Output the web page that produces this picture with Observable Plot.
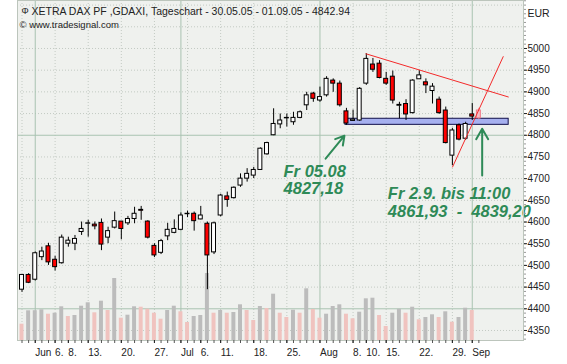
<!DOCTYPE html>
<html><head><meta charset="utf-8">
<script src="https://cdn.jsdelivr.net/npm/d3@7"></script>
<script src="https://cdn.jsdelivr.net/npm/@observablehq/plot@0.6"></script>
<style>html,body{margin:0;padding:0;background:#fff;}</style>
</head><body><div id="chart"></div>
<script>
// ---- data (XETRA DAX daily, 30.05.05 - 02.09.05) ----
const dates = [
"2005-05-30","2005-05-31",
"2005-06-01","2005-06-02","2005-06-03","2005-06-06","2005-06-07","2005-06-08","2005-06-09","2005-06-10",
"2005-06-13","2005-06-14","2005-06-15","2005-06-16","2005-06-17","2005-06-20","2005-06-21","2005-06-22",
"2005-06-23","2005-06-24","2005-06-27","2005-06-28","2005-06-29","2005-06-30",
"2005-07-01","2005-07-04","2005-07-05","2005-07-06","2005-07-07","2005-07-08","2005-07-11","2005-07-12",
"2005-07-13","2005-07-14","2005-07-15","2005-07-18","2005-07-19","2005-07-20","2005-07-21","2005-07-22",
"2005-07-25","2005-07-26","2005-07-27","2005-07-28","2005-07-29",
"2005-08-01","2005-08-02","2005-08-03","2005-08-04","2005-08-05","2005-08-08","2005-08-09","2005-08-10",
"2005-08-11","2005-08-12","2005-08-15","2005-08-16","2005-08-17","2005-08-18","2005-08-19","2005-08-22",
"2005-08-23","2005-08-24","2005-08-25","2005-08-26","2005-08-29","2005-08-30","2005-08-31",
"2005-09-01","2005-09-02"];
const open  = [4444,4478,4467,4519,4544,4513,4505,4550,4550,4577,4596,4594,4598,4564,4587,4601,4597,4607,4628,4601,
               4545,4529,4567,4575,4582,4618,4619,4606,4596,4530,4615,4659,4655,4684,4700,4707,4720,4756,4800,4825,
               4839,4830,4840,4869,4896,4880,4892,4926,4919,4855,4833,4834,4919,4963,4965,4930,4935,4868,4872,4851,
               4929,4922,4902,4882,4857,4753,4823,4792,4848,4857];
const high  = [4479,4481,4531,4542,4551,4521,4570,4565,4569,4600,4604,4600,4607,4588,4623,4601,4613,4634,4636,4603,
               4550,4560,4597,4605,4621,4625,4623,4636,4600,4600,4664,4669,4681,4711,4723,4726,4771,4784,4861,4849,
               4849,4853,4856,4899,4899,4911,4935,4930,4925,4862,4858,4910,4988,4977,4972,4945,4948,4876,4882,4928,
               4949,4930,4919,4888,4865,4816,4826,4830,4873,4862];
const low   = [4438,4458,4464,4511,4500,4487,4503,4542,4534,4569,4565,4582,4534,4550,4584,4559,4592,4596,4604,4561,
               4518,4525,4557,4573,4580,4610,4579,4605,4444,4525,4612,4634,4653,4680,4692,4700,4719,4754,4799,4815,
               4819,4823,4838,4857,4876,4876,4888,4899,4865,4823,4832,4832,4915,4945,4930,4915,4872,4838,4834,4849,
               4929,4896,4872,4848,4780,4730,4787,4788,4834,4836];
const close = [4478,4460,4528,4532,4507,4496,4564,4557,4561,4584,4597,4590,4548,4579,4602,4584,4607,4619,4626,4564,
               4523,4556,4582,4584,4615,4619,4602,4615,4523,4597,4661,4651,4679,4700,4711,4720,4769,4782,4826,4834,
               4840,4840,4853,4892,4884,4888,4930,4919,4869,4827,4836,4907,4976,4951,4932,4919,4880,4870,4848,4926,
               4938,4915,4912,4851,4782,4811,4790,4826,4843,4839];
// volume (relative units), one per completed session
const volume = [16.3,29.7,29.8,30.7,26.3,27.3,33.7,24,25,34.3,37.7,27.7,39.3,30,62,22.3,25.3,33.7,33.3,31.3,
                27.3,21.3,30,34.3,28.7,18,24,25,67,27.3,30,27.3,28,35.7,30,20,34,32,46.3,27.3,
                23,30.3,27.3,51.7,31,22.3,26.3,34,35.7,26.3,21.7,28.3,41.7,42.3,25,14,27.3,31.3,27.3,33.3,
                20.7,23,25.7,23,28.7,18.3,23,32.3,30];
const intradayDate = "2005-09-02";
const tickDates  = ["2005-06-01","2005-06-06","2005-06-08","2005-06-13","2005-06-20","2005-06-27","2005-07-01",
                    "2005-07-06","2005-07-11","2005-07-18","2005-07-25","2005-08-01","2005-08-08","2005-08-10",
                    "2005-08-15","2005-08-22","2005-08-29","2005-09-01"];
const tickLabels = ["Jun","6.","8.","13.","20.","27.","Jul","6.","11.","18.","25.","Aug","8.","10.","15.","22.","29.","Sep"];
const priceTicks = [4350,4400,4450,4500,4550,4600,4650,4700,4750,4800,4850,4900,4950,5000];
const gridPrices = [4350,4400,4450,4500,4550,4600,4650,4700,4750,4800,4850,4900,4950,5000,5050,5100];
const solidPrices = [4400,4800];
const title = "XETRA DAX PF ,GDAXI, Tageschart - 30.05.05 - 01.09.05 - 4842.94";
const source = "\u00a9 www.tradesignal.com";
const currency = "EUR";
// drawn annotations (session index, price)
const supportZone = [{x1:48.85, x2:73.5, low:4824, high:4838}];
const trendLines = [{x1:51.9, y1:4988, x2:73.5, y2:4888},{x1:65.0, y1:4726, x2:72.7, y2:4982}];
const arrows = [{x1:45.85, y1:4746, x2:48.7, y2:4799},{x1:69.5, y1:4707, x2:69.5, y2:4815}];
const noteLeft  = [{x:39.5, y:4697, text:"Fr 05.08\n4827,18"}];
const noteRight = [{x:55.25, y:4645, text:"Fr 2.9. bis 11:00\n4861,93\u00a0\u00a0-\u00a0\u00a04839,20"}];

// ---- derived ----
const candles = dates.map((d,i)=>({i, date:d, open:open[i], high:high[i], low:low[i], close:close[i], intraday:d===intradayDate}));
const yMin = 4326.9, yMax = 5110.6, plotH = 340;
const volUnit = (yMax - yMin) / plotH;
const vols = volume.map((v,i)=>({i, v, up: i>0 && v>volume[i-1]}));
const idxOf = new Map(dates.map((d,i)=>[d,i]));
const tickIdx = tickDates.map(d=>idxOf.get(d));
const labelOf = new Map(tickIdx.map((t,k)=>[t, tickLabels[k]]));
const monthIdx = dates.map((d,i)=>i).filter(i=>i>0 && dates[i].slice(5,7)!==dates[i-1].slice(5,7));
const mondayIdx = dates.map((d,i)=>i).filter(i=>new Date(dates[i]+"T00:00:00Z").getUTCDay()===1 && !monthIdx.includes(i));
const minorPrices = d3.range(4330, 5111, 10);
const sans = "'Liberation Sans Narrow','Arial Narrow','Liberation Sans',Arial,sans-serif";
const noteStyle = {x:"x", y:"y", text:"text", textAnchor:"start", fontSize:16.5, fontWeight:"bold",
                   fontStyle:"italic", fill:"#2e8a57", fontFamily:"'Liberation Sans',Arial,sans-serif"};

const chart = Plot.plot({
  width:567, height:364, marginLeft:17, marginRight:44, marginTop:0, marginBottom:24,
  x:{type:"linear", domain:[-0.68, 75.74]},
  y:{domain:[yMin, yMax]},
  color:{type:"identity"},
  style:{fontFamily:sans, fontSize:"10px", color:"#222", background:"#fff"},
  marks:[
    Plot.frame({fill:"#eff1ee", stroke:null}),
    Plot.ruleY(gridPrices.filter(p=>!solidPrices.includes(p)), {stroke:"#c3cac3", strokeDasharray:"1,2"}),
    Plot.ruleX(mondayIdx, {stroke:"#c3cac3", strokeDasharray:"1,2"}),
    Plot.ruleY(solidPrices, {stroke:"#a9c3b1"}),
    Plot.ruleX(monthIdx, {stroke:"#a9c3b1"}),
    Plot.rect(vols, {x1:d=>d.i-0.3, x2:d=>d.i+0.3, y1:yMin, y2:d=>yMin + d.v*volUnit,
                     fill:d=>d.up ? "#bcbcbc" : "#f0c3bf"}),
    Plot.rect(supportZone, {x1:"x1", x2:"x2", y1:"low", y2:"high", fill:"#a6b0ef", stroke:"#10104a"}),
    Plot.ruleX(candles, {x:"i", y1:"low", y2:"high", stroke:d=>d.intraday ? "#f07a88" : "#000"}),
    Plot.rect(candles, {x1:d=>d.i-0.3, x2:d=>d.i+0.3, y1:"open", y2:"close",
                        fill:d=>d.intraday ? "#f7bcc4" : (d.close>=d.open ? "#fff" : "#f00"),
                        stroke:d=>d.intraday ? "#f07a88" : "#000"}),
    Plot.link(trendLines, {x1:"x1", y1:"y1", x2:"x2", y2:"y2", stroke:"#f42a2a", strokeWidth:1}),
    Plot.arrow(arrows, {x1:"x1", y1:"y1", x2:"x2", y2:"y2", stroke:"#2e8a57", strokeWidth:2, headLength:9}),
    Plot.text(noteLeft, {...noteStyle, lineHeight:1.03}),
    Plot.text(noteRight, {...noteStyle, lineHeight:1.09}),
    Plot.frame({stroke:"#bcc5bc"}),
    Plot.axisX(dates.map((d,i)=>i), {tickSize:3, tickFormat:()=>"", label:null, stroke:"#555"}),
    Plot.axisX(tickIdx, {tickSize:3, tickPadding:5, tickFormat:d=>labelOf.get(d), textAnchor:"start", dx:0, label:null, fill:"#222"}),
    Plot.axisY(minorPrices, {anchor:"right", tickSize:2, tickFormat:()=>"", label:null, stroke:"#999"}),
    Plot.axisY(priceTicks, {anchor:"right", tickSize:3, tickPadding:1, tickFormat:d=>String(d), label:null, fill:"#222"}),
    Plot.text([currency], {frameAnchor:"top-right", dx:4, dy:13, textAnchor:"start", lineAnchor:"middle", fill:"#222", fontSize:10.5}),
    Plot.text(["\u03a6"], {frameAnchor:"top-left", dx:4, dy:11, textAnchor:"start", lineAnchor:"middle", fill:"#222", fontSize:9}),
    Plot.text([title], {frameAnchor:"top-left", dx:14, dy:11, textAnchor:"start", lineAnchor:"middle", fill:"#222", fontSize:10.5}),
    Plot.text([source], {frameAnchor:"top-left", dx:2, dy:24.5, textAnchor:"start", lineAnchor:"middle", fill:"#222", fontSize:9.5})
  ]
});
document.getElementById("chart").appendChild(chart);
</script>
</body></html>
